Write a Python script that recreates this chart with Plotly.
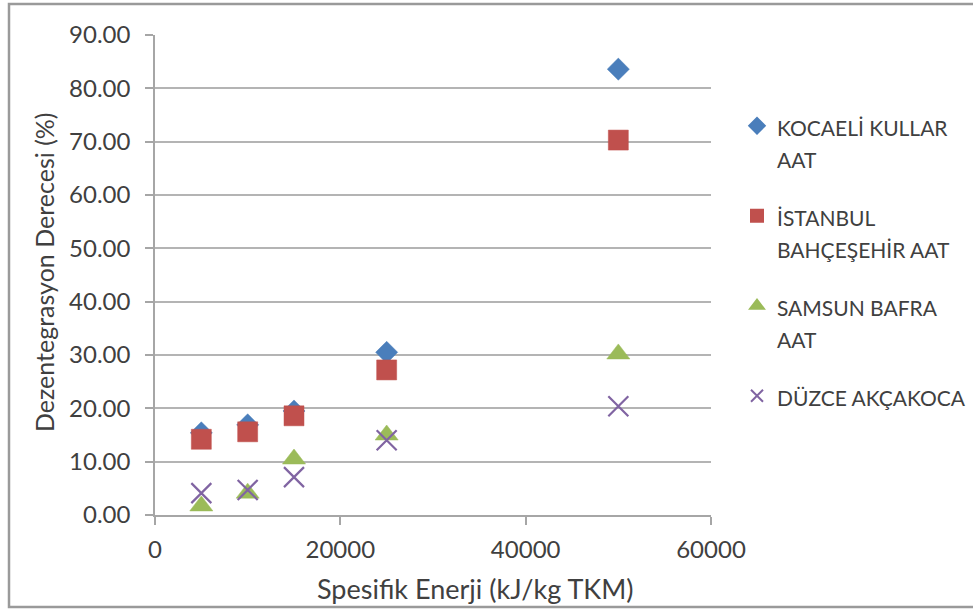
import plotly.graph_objects as go

energy = [5000, 10000, 15000, 25000, 50000]
kocaeli = [15.4, 16.9, 19.5, 30.5, 83.6]
istanbul = [14.2, 15.6, 18.6, 27.2, 70.3]
samsun = [1.7, 4.1, 10.5, 15.0, 30.2]
duzce = [4.1, 4.7, 7.1, 14.0, 20.4]

names = ["KOCAELİ KULLAR<br>AAT", "İSTANBUL<br>BAHÇEŞEHİR AAT", "SAMSUN BAFRA<br>AAT", "DÜZCE AKÇAKOCA"]
colors = ["#4A7EBB", "#C0504D", "#9BBB59", "#8064A2"]
symbols = ["diamond", "square", "triangle-up", "x-thin-open"]
sizes = [17, 20, 20, 20]
series = [kocaeli, istanbul, samsun, duzce]

FONT = "Lato"
W, H = 973, 610
L, R, T, B = 155, 262, 35, 95
pw, ph = W - L - R, H - T - B

def px(xp):
    return (xp - L) / pw

def py(yp):
    return (H - B - yp) / ph

fig = go.Figure()
for i, (nm, vals) in enumerate(zip(names, series)):
    mk = dict(symbol=symbols[i], size=sizes[i], color=colors[i])
    if symbols[i].startswith("x"):
        mk["line"] = dict(color=colors[i], width=2.2)
    else:
        mk["line"] = dict(color=colors[i], width=0.5)
    fig.add_trace(go.Scatter(
        x=energy, y=vals, mode="markers", marker=mk,
        name='<span style="font-size:21px">' + nm + '</span>',
        legendgroup=str(i),
    ))

axis_common = dict(
    showline=True, linecolor="#a6a6a6", linewidth=1.5,
    gridcolor="#b4b4b4", gridwidth=1.5,
    ticks="outside", tickcolor="#a6a6a6", tickwidth=1.5,
    zeroline=False, automargin=False,
    tickfont=dict(family=FONT, size=24, color="#404040"),
)

fig.update_layout(
    width=W, height=H,
    margin=dict(l=L, r=R, t=T, b=B, pad=0),
    paper_bgcolor="white", plot_bgcolor="white",
    font=dict(family=FONT, color="#404040"),
    xaxis=dict(range=[0, 60000], dtick=20000, tick0=0, showgrid=False,
               tickformat="d", ticklen=8, ticklabelstandoff=4, **axis_common),
    yaxis=dict(range=[0, 90], dtick=10, tick0=0, tickformat=".2f", showgrid=True,
               ticklen=8, ticklabelstandoff=10, **axis_common),
    legend=dict(xref="container", yref="container", x=737 / W, y=1 - 103 / H,
                xanchor="left", yanchor="top", maxheight=600,
                font=dict(family=FONT, size=25, color="#404040"),
                valign="top", tracegroupgap=22, bgcolor="rgba(0,0,0,0)",
                itemsizing="constant"),
    showlegend=True,
    annotations=[
        dict(text="Dezentegrasyon Derecesi (%)", xref="paper", yref="paper",
             x=px(44), y=py(272), textangle=-90, showarrow=False,
             font=dict(family=FONT, size=25, color="#404040"), xanchor="center", yanchor="middle"),
        dict(text="Spesifik Enerji (kJ/kg TKM)", xref="paper", yref="paper",
             x=px(475), y=py(588), showarrow=False,
             font=dict(family=FONT, size=27, color="#404040"), xanchor="center", yanchor="middle"),
    ],
    shapes=[
        dict(type="rect", xref="paper", yref="paper",
             x0=px(9), x1=px(985), y0=py(607), y1=py(4),
             line=dict(color="#9a9a9a", width=2.5), fillcolor="rgba(0,0,0,0)", layer="below"),
    ],
)

fig.write_html("out.html")
